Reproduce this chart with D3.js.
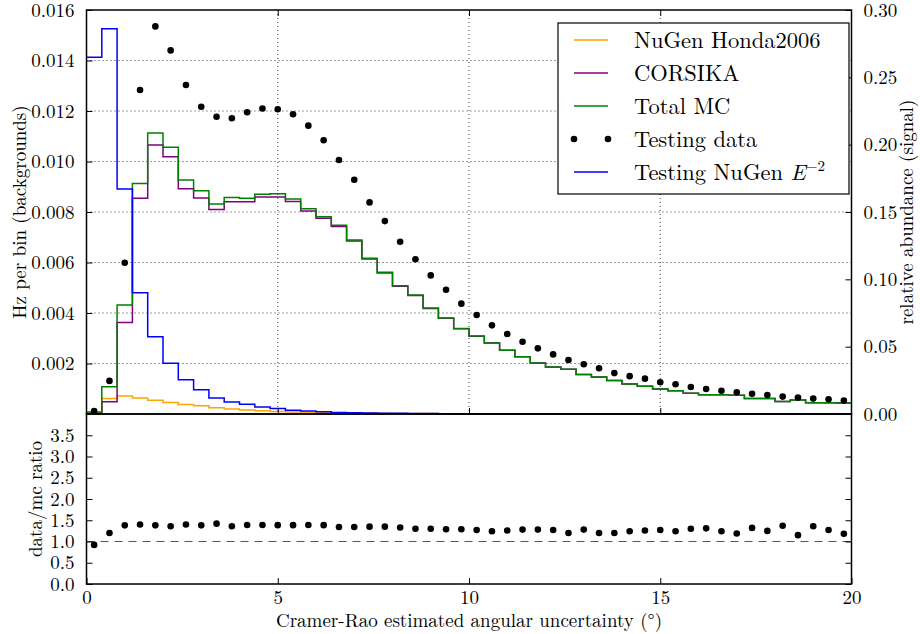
<!DOCTYPE html>
<html>
<head>
<meta charset="utf-8">
<script src="https://cdn.jsdelivr.net/npm/d3@7"></script>
<style>
  body { margin: 0; background: #fff; }
</style>
</head>
<body>
<div id="chart"></div>
<script>
// histogram bins: 50 bins of 0.4 degrees from 0 to 20
var binWidth = 0.4;
var nBins = 50;
var serif = "'Latin Modern Roman', 'Liberation Serif', serif";

// background rates (Hz per bin)
var nugenHonda = [0.00005, 0.00061, 0.00071, 0.00063, 0.00054, 0.00046, 0.00038, 0.00033, 0.00025, 0.00020,
  0.00016, 0.00013, 0.00010, 0.00008, 0.00007, 0.00006, 0.00005, 0.00004, 0.00003, 0.00003,
  0.00002, 0.00002, 0.00002, 0.00001, 0.00001, 0.00001, 0, 0, 0, 0,
  0, 0, 0, 0, 0, 0, 0, 0, 0, 0,
  0, 0, 0, 0, 0, 0, 0, 0, 0, 0];

var corsika = [0.00003, 0.00049, 0.00362, 0.00854, 0.01065, 0.01019, 0.00892, 0.00855, 0.00810, 0.00841,
  0.00841, 0.00859, 0.00859, 0.00842, 0.00804, 0.00775, 0.00743, 0.00685, 0.00614, 0.00558,
  0.00506, 0.00469, 0.00418, 0.00379, 0.00338, 0.00308, 0.00281, 0.00252, 0.00227, 0.00202,
  0.00186, 0.00177, 0.00156, 0.00147, 0.00133, 0.00119, 0.00110, 0.00099, 0.00092, 0.00082,
  0.00076, 0.00076, 0.00074, 0.00061, 0.00061, 0.00050, 0.00055, 0.00045, 0.00045, 0.00044];

var totalMC = [0.00008, 0.00108, 0.00432, 0.00913, 0.01113, 0.01056, 0.00927, 0.00884, 0.00832, 0.00857,
  0.00854, 0.00870, 0.00872, 0.00851, 0.00813, 0.00781, 0.00748, 0.00689, 0.00617, 0.00561,
  0.00508, 0.00471, 0.00420, 0.00380, 0.00339, 0.00309, 0.00281, 0.00252, 0.00227, 0.00202,
  0.00186, 0.00177, 0.00156, 0.00147, 0.00133, 0.00119, 0.00110, 0.00099, 0.00092, 0.00082,
  0.00076, 0.00076, 0.00074, 0.00061, 0.00061, 0.00050, 0.00055, 0.00045, 0.00045, 0.00044];

var testingData = [0.00012, 0.00131, 0.00599, 0.01283, 0.01535, 0.01440, 0.01303, 0.01217, 0.01177, 0.01171,
  0.01195, 0.01210, 0.01207, 0.01187, 0.01142, 0.01084, 0.01006, 0.00928, 0.00838, 0.00764,
  0.00682, 0.00613, 0.00549, 0.00492, 0.00437, 0.00392, 0.00351, 0.00317, 0.00286, 0.00260,
  0.00236, 0.00214, 0.00197, 0.00181, 0.00162, 0.00150, 0.00140, 0.00126, 0.00118, 0.00107,
  0.00099, 0.00092, 0.00086, 0.00080, 0.00075, 0.00069, 0.00065, 0.00061, 0.00058, 0.00053];

// signal (relative abundance, right axis)
var testingNuGenE2 = [0.265, 0.286, 0.167, 0.090, 0.0574, 0.0376, 0.0255, 0.0180, 0.0119, 0.0089,
  0.0072, 0.0052, 0.0040, 0.0027, 0.0022, 0.0017, 0.0012, 0.0010, 0.0008, 0.0006,
  0.0005, 0.0004, 0.0003, 0.0002, 0, 0, 0, 0, 0, 0,
  0, 0, 0, 0, 0, 0, 0, 0, 0, 0,
  0, 0, 0, 0, 0, 0, 0, 0, 0, 0];

// data / mc ratio
var ratio = [0.92, 1.20, 1.38, 1.40, 1.38, 1.36, 1.40, 1.38, 1.42, 1.36,
  1.39, 1.39, 1.385, 1.385, 1.39, 1.385, 1.34, 1.34, 1.35, 1.35,
  1.33, 1.30, 1.30, 1.29, 1.29, 1.27, 1.24, 1.26, 1.28, 1.28,
  1.27, 1.20, 1.28, 1.20, 1.20, 1.24, 1.26, 1.27, 1.24, 1.30,
  1.31, 1.24, 1.19, 1.32, 1.25, 1.37, 1.15, 1.36, 1.27, 1.18];

// tick values
var xTicks = [0, 5, 10, 15, 20];
var leftTicks = [0.002, 0.004, 0.006, 0.008, 0.010, 0.012, 0.014, 0.016];
var rightTicks = [0, 0.05, 0.10, 0.15, 0.20, 0.25, 0.30];
var ratioTicks = [0, 0.5, 1.0, 1.5, 2.0, 2.5, 3.0, 3.5];

var legendItems = [
  {name: "NuGen Honda2006", color: "#ffa500", type: "line"},
  {name: "CORSIKA", color: "#800080", type: "line"},
  {name: "Total MC", color: "#008000", type: "line"},
  {name: "Testing data", color: "#000", type: "dots"},
  {name: "Testing NuGen ", color: "#0000ff", type: "line", sup: true}
];

var svgWidth = 920;
var svgHeight = 634;

var svg = d3.select("#chart")
  .append("svg")
  .attr("width", svgWidth)
  .attr("height", svgHeight);

// panel geometry
var left = 86.5, right = 851.5;
var topY = 10, midY = 414, botY = 584;

var xScale = d3.scaleLinear().domain([0, 20]).range([left, right]);
var yLeft = d3.scaleLinear().domain([0, 0.016]).range([midY, topY]);
var yRight = d3.scaleLinear().domain([0, 0.30]).range([midY, topY]);
var yRatio = d3.scaleLinear().domain([0, 4]).range([botY, midY]);

// grid lines (top panel only)
var grid = svg.append("g")
  .attr("stroke", "#000")
  .attr("stroke-width", 1)
  .attr("stroke-dasharray", "1,3")
  .attr("opacity", 0.75);

grid.selectAll(".hgrid")
  .data(leftTicks.slice(0, -1))
  .enter()
  .append("line")
  .attr("x1", left).attr("x2", right)
  .attr("y1", d => yLeft(d)).attr("y2", d => yLeft(d));

grid.selectAll(".vgrid")
  .data([5, 10, 15])
  .enter()
  .append("line")
  .attr("y1", topY).attr("y2", midY)
  .attr("x1", d => xScale(d)).attr("x2", d => xScale(d));

// histogram step lines
function stepPath(values, yScale) {
  var pts = values.map((v, i) => [i * binWidth, v]);
  pts.push([nBins * binWidth, values[values.length - 1]]);
  return d3.line()
    .x(d => xScale(d[0]))
    .y(d => yScale(d[1]))
    .curve(d3.curveStepAfter)(pts);
}

var plot = svg.append("g");

plot.append("path").attr("d", stepPath(nugenHonda, yLeft))
  .attr("fill", "none").attr("stroke", "#ffa500").attr("stroke-width", 1.5);
plot.append("path").attr("d", stepPath(corsika, yLeft))
  .attr("fill", "none").attr("stroke", "#800080").attr("stroke-width", 1.5);
plot.append("path").attr("d", stepPath(totalMC, yLeft))
  .attr("fill", "none").attr("stroke", "#008000").attr("stroke-width", 1.5);

plot.selectAll(".data")
  .data(testingData)
  .enter()
  .append("circle")
  .attr("cx", (d, i) => xScale((i + 0.5) * binWidth))
  .attr("cy", d => yLeft(d))
  .attr("r", 3.3)
  .attr("fill", "#000");

plot.append("path").attr("d", stepPath(testingNuGenE2, yRight))
  .attr("fill", "none").attr("stroke", "#0000ff").attr("stroke-width", 1.5);

// ratio panel
svg.append("line")
  .attr("x1", left).attr("x2", right)
  .attr("y1", yRatio(1)).attr("y2", yRatio(1))
  .attr("stroke", "#555")
  .attr("stroke-width", 1.2)
  .attr("stroke-dasharray", "8,6");

svg.selectAll(".ratio")
  .data(ratio)
  .enter()
  .append("circle")
  .attr("cx", (d, i) => xScale((i + 0.5) * binWidth))
  .attr("cy", d => yRatio(d))
  .attr("r", 3.3)
  .attr("fill", "#000");

// axes with inward ticks
function styleAxis(g) {
  g.select(".domain").remove();
  g.selectAll(".tick line").attr("stroke", "#000").attr("stroke-width", 1);
  g.selectAll(".tick text").attr("font-size", 19).attr("fill", "#000");
}

// top panel
svg.append("g").attr("transform", `translate(0,${midY})`)
  .call(d3.axisBottom(xScale).tickValues([5, 10, 15]).tickSizeInner(-6).tickFormat(""))
  .call(styleAxis);
svg.append("g").attr("transform", `translate(0,${topY})`)
  .call(d3.axisTop(xScale).tickValues([5, 10, 15]).tickSizeInner(-6).tickFormat(""))
  .call(styleAxis);
svg.append("g").attr("transform", `translate(${left},0)`)
  .call(d3.axisLeft(yLeft).tickValues(leftTicks).tickSizeInner(-6).tickPadding(12).tickFormat(d3.format(".3f")))
  .call(styleAxis);
svg.append("g").attr("transform", `translate(${right},0)`)
  .call(d3.axisRight(yRight).tickValues(rightTicks).tickSizeInner(-6).tickPadding(12).tickFormat(d3.format(".2f")))
  .call(styleAxis);

// bottom panel
svg.append("g").attr("transform", `translate(0,${botY})`)
  .call(d3.axisBottom(xScale).tickValues(xTicks).tickSizeInner(-6).tickPadding(6).tickFormat(d3.format("d")))
  .call(styleAxis);
svg.append("g").attr("transform", `translate(${left},0)`)
  .call(d3.axisLeft(yRatio).tickValues(ratioTicks).tickSizeInner(-6).tickPadding(12).tickFormat(d3.format(".1f")))
  .call(styleAxis);
svg.append("g").attr("transform", `translate(${right},0)`)
  .call(d3.axisRight(yRatio).tickValues(ratioTicks).tickSizeInner(-6).tickFormat(""))
  .call(styleAxis);

// frames
svg.append("rect")
  .attr("x", left).attr("y", topY)
  .attr("width", right - left).attr("height", midY - topY)
  .attr("fill", "none").attr("stroke", "#000").attr("stroke-width", 1.5);
svg.append("rect")
  .attr("x", left).attr("y", midY)
  .attr("width", right - left).attr("height", botY - midY)
  .attr("fill", "none").attr("stroke", "#000").attr("stroke-width", 1.5);

// axis labels
svg.append("text")
  .attr("transform", `translate(26,${(topY + midY) / 2}) rotate(-90)`)
  .attr("text-anchor", "middle")
  .attr("font-size", 19)
  .text("Hz per bin (backgrounds)");

svg.append("text")
  .attr("transform", `translate(913,${(topY + midY) / 2}) rotate(-90)`)
  .attr("text-anchor", "middle")
  .attr("font-size", 19)
  .text("relative abundance (signal)");

svg.append("text")
  .attr("transform", `translate(42,${(midY + botY) / 2}) rotate(-90)`)
  .attr("text-anchor", "middle")
  .attr("font-size", 19)
  .text("data/mc ratio");

svg.append("text")
  .attr("x", (left + right) / 2)
  .attr("y", 627)
  .attr("text-anchor", "middle")
  .attr("font-size", 19)
  .text("Cramer-Rao estimated angular uncertainty (°)");

// legend
var legend = svg.append("g");
legend.append("rect")
  .attr("x", 558).attr("y", 23)
  .attr("width", 291).attr("height", 171)
  .attr("fill", "#fff").attr("stroke", "#000").attr("stroke-width", 1.2);

legendItems.forEach(function(item, i) {
  var y = 40 + i * 33;
  if (item.type === "line") {
    legend.append("line")
      .attr("x1", 574).attr("x2", 608)
      .attr("y1", y).attr("y2", y)
      .attr("stroke", item.color).attr("stroke-width", 1.5);
  } else {
    legend.selectAll(".ld" + i)
      .data([574, 608])
      .enter()
      .append("circle")
      .attr("cx", d => d).attr("cy", y).attr("r", 3.3).attr("fill", item.color);
  }
  var t = legend.append("text")
    .attr("x", 634).attr("y", y + 8)
    .attr("font-size", 22.5)
    .text(item.name);
  if (item.sup) {
    t.append("tspan").attr("font-style", "italic").text("E");
    t.append("tspan").attr("font-size", 15).attr("dy", -9).text("−2");
  }
});

// serif font everywhere (style beats the axis font-family attribute)
svg.selectAll("text").style("font-family", serif);
</script>
</body>
</html>
